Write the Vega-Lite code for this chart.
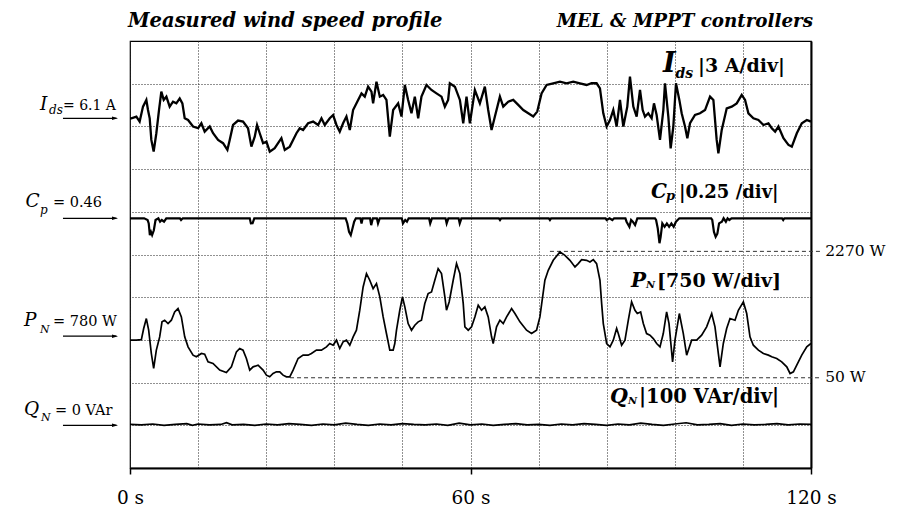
{
"$schema": "https://vega.github.io/schema/vega-lite/v6.json",
"width": 681, "height": 427,
"autosize": {"type": "none"},
"padding": {"left": 130, "top": 41, "right": 88, "bottom": 42},
"background": "white",
"config": {"view": {"stroke": "black", "strokeWidth": 1.2}},
"datasets": {
"ids": [{"t":0,"v":6.1},{"t":0.24,"v":6.1},{"t":1.12,"v":6.22},{"t":1.7,"v":5.87},{"t":2.29,"v":6.92},{"t":2.88,"v":7.39},{"t":3.17,"v":6.68},{"t":3.47,"v":6.1},{"t":3.76,"v":4.58},{"t":4.17,"v":3.76},{"t":4.64,"v":5.05},{"t":5.11,"v":6.68},{"t":5.52,"v":7.97},{"t":5.94,"v":7.39},{"t":6.41,"v":7.62},{"t":6.99,"v":6.92},{"t":7.58,"v":7.27},{"t":8.17,"v":7.15},{"t":8.76,"v":7.5},{"t":9.23,"v":7.15},{"t":9.64,"v":6.1},{"t":10.23,"v":5.98},{"t":11.11,"v":5.52},{"t":12.0,"v":5.4},{"t":12.58,"v":5.75},{"t":13.16,"v":5.16},{"t":14.05,"v":5.52},{"t":14.64,"v":5.05},{"t":15.52,"v":4.58},{"t":16.4,"v":4.35},{"t":17.16,"v":3.88},{"t":17.57,"v":4.58},{"t":18.16,"v":5.63},{"t":19.04,"v":5.94},{"t":19.92,"v":5.87},{"t":20.8,"v":5.4},{"t":21.39,"v":4.11},{"t":21.98,"v":4.81},{"t":22.39,"v":5.63},{"t":22.86,"v":5.05},{"t":23.45,"v":4.35},{"t":24.04,"v":4.46},{"t":24.63,"v":3.76},{"t":25.5,"v":4.0},{"t":26.09,"v":4.35},{"t":26.68,"v":4.7},{"t":27.27,"v":3.88},{"t":28.15,"v":4.11},{"t":28.74,"v":4.58},{"t":29.33,"v":5.05},{"t":29.91,"v":5.4},{"t":30.5,"v":5.28},{"t":31.38,"v":5.75},{"t":32.27,"v":5.87},{"t":33.15,"v":5.63},{"t":33.74,"v":6.1},{"t":34.32,"v":5.63},{"t":35.2,"v":6.1},{"t":35.79,"v":6.33},{"t":36.38,"v":5.63},{"t":36.96,"v":5.16},{"t":37.55,"v":5.75},{"t":38.14,"v":6.22},{"t":38.73,"v":5.28},{"t":39.31,"v":6.68},{"t":40.2,"v":7.39},{"t":40.79,"v":7.85},{"t":41.37,"v":7.62},{"t":41.96,"v":8.32},{"t":42.55,"v":7.97},{"t":42.84,"v":7.15},{"t":43.43,"v":8.67},{"t":44.02,"v":7.62},{"t":44.61,"v":7.74},{"t":45.19,"v":7.39},{"t":45.78,"v":4.81},{"t":46.37,"v":6.68},{"t":47.25,"v":7.15},{"t":47.84,"v":6.22},{"t":48.43,"v":8.44},{"t":49.01,"v":7.39},{"t":49.6,"v":6.45},{"t":50.19,"v":7.62},{"t":50.78,"v":6.1},{"t":51.36,"v":7.62},{"t":52.24,"v":8.44},{"t":53.12,"v":8.09},{"t":54.01,"v":7.85},{"t":54.89,"v":7.62},{"t":55.48,"v":6.92},{"t":56.06,"v":7.39},{"t":56.36,"v":8.56},{"t":57.25,"v":8.32},{"t":58.13,"v":7.39},{"t":58.72,"v":5.75},{"t":59.3,"v":7.62},{"t":59.89,"v":5.75},{"t":60.77,"v":8.09},{"t":61.65,"v":7.15},{"t":62.53,"v":8.32},{"t":63.12,"v":6.68},{"t":63.71,"v":5.28},{"t":64.3,"v":6.22},{"t":65.18,"v":7.62},{"t":65.77,"v":6.92},{"t":66.65,"v":7.27},{"t":67.53,"v":7.39},{"t":68.41,"v":7.04},{"t":69.3,"v":6.68},{"t":70.18,"v":6.45},{"t":71.06,"v":6.22},{"t":71.76,"v":6.57},{"t":72.52,"v":7.85},{"t":73.41,"v":8.44},{"t":74.58,"v":8.56},{"t":75.76,"v":8.67},{"t":76.93,"v":8.56},{"t":78.11,"v":8.67},{"t":79.28,"v":8.56},{"t":80.46,"v":8.44},{"t":81.34,"v":8.56},{"t":82.22,"v":8.56},{"t":82.81,"v":8.2},{"t":83.4,"v":6.45},{"t":83.99,"v":5.52},{"t":84.58,"v":5.98},{"t":85.16,"v":6.68},{"t":85.75,"v":5.52},{"t":86.34,"v":7.39},{"t":86.93,"v":5.52},{"t":87.63,"v":6.92},{"t":88.1,"v":9.02},{"t":88.69,"v":6.92},{"t":89.28,"v":6.22},{"t":89.87,"v":8.09},{"t":90.34,"v":6.68},{"t":90.75,"v":6.22},{"t":91.33,"v":6.45},{"t":91.92,"v":6.1},{"t":92.33,"v":7.15},{"t":92.8,"v":6.33},{"t":93.39,"v":4.58},{"t":93.98,"v":6.68},{"t":94.27,"v":8.56},{"t":94.86,"v":6.22},{"t":95.27,"v":3.99},{"t":95.74,"v":5.52},{"t":96.21,"v":8.56},{"t":96.8,"v":7.39},{"t":97.21,"v":6.45},{"t":97.8,"v":5.52},{"t":98.21,"v":4.7},{"t":98.68,"v":5.75},{"t":99.56,"v":6.33},{"t":100.44,"v":6.45},{"t":101.33,"v":6.68},{"t":102.21,"v":7.62},{"t":102.8,"v":7.39},{"t":103.38,"v":4.58},{"t":103.68,"v":3.64},{"t":104.27,"v":5.28},{"t":105.15,"v":6.8},{"t":106.03,"v":6.92},{"t":106.91,"v":7.15},{"t":107.79,"v":7.74},{"t":108.38,"v":7.39},{"t":108.97,"v":6.45},{"t":109.85,"v":6.1},{"t":110.73,"v":5.98},{"t":111.62,"v":5.63},{"t":112.5,"v":5.75},{"t":113.09,"v":5.4},{"t":113.68,"v":5.16},{"t":114.26,"v":5.52},{"t":115.15,"v":4.7},{"t":116.03,"v":4.23},{"t":116.62,"v":4.11},{"t":117.5,"v":5.05},{"t":118.38,"v":5.75},{"t":119.26,"v":5.98},{"t":120,"v":5.87}],
"cp": [{"t":0,"v":0.46},{"t":2.5,"v":0.46},{"t":3.1,"v":0.45},{"t":3.3,"v":0.43},{"t":3.5,"v":0.362},{"t":3.7,"v":0.38},{"t":3.9,"v":0.362},{"t":4.2,"v":0.39},{"t":4.5,"v":0.45},{"t":5.0,"v":0.46},{"t":5.3,"v":0.44},{"t":5.6,"v":0.45},{"t":6.0,"v":0.44},{"t":6.4,"v":0.46},{"t":8.8,"v":0.46},{"t":9.0,"v":0.45},{"t":9.3,"v":0.46},{"t":21.1,"v":0.46},{"t":21.3,"v":0.43},{"t":21.6,"v":0.431},{"t":21.9,"v":0.46},{"t":38.0,"v":0.46},{"t":38.3,"v":0.43},{"t":38.6,"v":0.38},{"t":38.9,"v":0.362},{"t":39.2,"v":0.4},{"t":39.5,"v":0.44},{"t":39.8,"v":0.46},{"t":40.6,"v":0.46},{"t":40.8,"v":0.43},{"t":41.0,"v":0.46},{"t":42.3,"v":0.46},{"t":42.5,"v":0.42},{"t":42.8,"v":0.46},{"t":43.5,"v":0.46},{"t":43.7,"v":0.43},{"t":44.0,"v":0.46},{"t":47.9,"v":0.46},{"t":48.1,"v":0.43},{"t":48.5,"v":0.45},{"t":48.8,"v":0.44},{"t":49.1,"v":0.46},{"t":52.7,"v":0.46},{"t":52.9,"v":0.43},{"t":53.2,"v":0.46},{"t":55.6,"v":0.46},{"t":55.8,"v":0.43},{"t":56.1,"v":0.46},{"t":57.9,"v":0.46},{"t":58.1,"v":0.43},{"t":58.4,"v":0.46},{"t":65.0,"v":0.46},{"t":65.2,"v":0.45},{"t":65.4,"v":0.46},{"t":73.8,"v":0.46},{"t":74.0,"v":0.45},{"t":74.2,"v":0.46},{"t":83.8,"v":0.46},{"t":84.0,"v":0.45},{"t":84.5,"v":0.46},{"t":85.0,"v":0.45},{"t":85.3,"v":0.46},{"t":87.3,"v":0.46},{"t":87.5,"v":0.44},{"t":88.0,"v":0.41},{"t":88.3,"v":0.45},{"t":88.6,"v":0.44},{"t":89.0,"v":0.42},{"t":89.4,"v":0.46},{"t":92.5,"v":0.46},{"t":92.7,"v":0.45},{"t":93.0,"v":0.4},{"t":93.3,"v":0.314},{"t":93.5,"v":0.35},{"t":93.8,"v":0.43},{"t":94.2,"v":0.41},{"t":94.6,"v":0.43},{"t":95.0,"v":0.41},{"t":95.4,"v":0.43},{"t":95.8,"v":0.41},{"t":96.2,"v":0.44},{"t":96.8,"v":0.46},{"t":102.4,"v":0.46},{"t":102.6,"v":0.45},{"t":102.9,"v":0.38},{"t":103.2,"v":0.352},{"t":103.5,"v":0.37},{"t":103.8,"v":0.43},{"t":104.3,"v":0.44},{"t":104.6,"v":0.46},{"t":105.0,"v":0.44},{"t":105.3,"v":0.46},{"t":105.6,"v":0.45},{"t":106.0,"v":0.46},{"t":114.9,"v":0.46},{"t":115.1,"v":0.45},{"t":115.3,"v":0.46},{"t":120,"v":0.46}],
"pn": [{"t":0,"v":710},{"t":1.12,"v":710},{"t":2.0,"v":720},{"t":2.41,"v":915},{"t":2.88,"v":1090},{"t":3.29,"v":886},{"t":3.76,"v":476},{"t":4.17,"v":213},{"t":4.64,"v":535},{"t":5.23,"v":768},{"t":5.64,"v":1032},{"t":6.11,"v":1060},{"t":6.7,"v":1002},{"t":7.29,"v":1061},{"t":7.87,"v":1207},{"t":8.46,"v":1266},{"t":9.05,"v":1119},{"t":9.64,"v":769},{"t":10.23,"v":593},{"t":11.11,"v":447},{"t":11.69,"v":418},{"t":12.58,"v":476},{"t":13.16,"v":464},{"t":13.75,"v":330},{"t":14.63,"v":301},{"t":15.81,"v":184},{"t":16.98,"v":143},{"t":17.87,"v":242},{"t":18.75,"v":505},{"t":19.33,"v":564},{"t":19.92,"v":535},{"t":20.51,"v":388},{"t":21.1,"v":184},{"t":21.69,"v":242},{"t":22.57,"v":271},{"t":23.45,"v":184},{"t":24.04,"v":96},{"t":24.62,"v":67},{"t":25.21,"v":125},{"t":25.8,"v":155},{"t":26.39,"v":155},{"t":26.97,"v":96},{"t":27.56,"v":67},{"t":28.15,"v":67},{"t":28.74,"v":184},{"t":29.62,"v":388},{"t":30.5,"v":447},{"t":31.38,"v":447},{"t":31.97,"v":476},{"t":32.85,"v":535},{"t":33.73,"v":535},{"t":34.62,"v":593},{"t":35.2,"v":652},{"t":35.79,"v":622},{"t":36.38,"v":710},{"t":36.96,"v":564},{"t":37.55,"v":681},{"t":38.14,"v":710},{"t":38.73,"v":622},{"t":39.32,"v":769},{"t":39.9,"v":885},{"t":40.49,"v":1236},{"t":41.08,"v":1645},{"t":41.67,"v":1879},{"t":42.25,"v":1763},{"t":42.84,"v":1616},{"t":43.43,"v":1704},{"t":44.02,"v":1470},{"t":44.61,"v":1119},{"t":45.19,"v":827},{"t":45.78,"v":535},{"t":46.37,"v":535},{"t":46.66,"v":652},{"t":46.96,"v":885},{"t":47.54,"v":1236},{"t":48.01,"v":1470},{"t":48.43,"v":1295},{"t":49.01,"v":1002},{"t":49.6,"v":885},{"t":50.19,"v":973},{"t":50.78,"v":1032},{"t":51.36,"v":1061},{"t":51.95,"v":1353},{"t":52.54,"v":1529},{"t":53.13,"v":1558},{"t":53.71,"v":1763},{"t":54.3,"v":1967},{"t":54.89,"v":1880},{"t":55.48,"v":1470},{"t":55.77,"v":1236},{"t":56.24,"v":1382},{"t":56.95,"v":1763},{"t":57.54,"v":2055},{"t":58.13,"v":1880},{"t":58.72,"v":1353},{"t":59.01,"v":944},{"t":59.6,"v":885},{"t":60.19,"v":944},{"t":60.77,"v":1119},{"t":61.36,"v":1324},{"t":61.95,"v":1236},{"t":62.53,"v":1295},{"t":63.12,"v":1119},{"t":63.71,"v":769},{"t":64.0,"v":652},{"t":64.59,"v":944},{"t":65.18,"v":1061},{"t":65.77,"v":1002},{"t":66.36,"v":1119},{"t":67.24,"v":1265},{"t":67.83,"v":1178},{"t":68.71,"v":1032},{"t":69.88,"v":885},{"t":70.76,"v":827},{"t":71.64,"v":885},{"t":72.23,"v":1119},{"t":73.11,"v":1763},{"t":73.7,"v":1938},{"t":74.58,"v":2113},{"t":75.76,"v":2260},{"t":76.64,"v":2201},{"t":77.52,"v":2113},{"t":78.41,"v":1996},{"t":78.99,"v":2055},{"t":79.58,"v":2125},{"t":80.46,"v":2113},{"t":81.05,"v":2084},{"t":81.64,"v":2125},{"t":82.22,"v":2055},{"t":82.81,"v":1763},{"t":83.11,"v":1353},{"t":83.4,"v":1002},{"t":83.99,"v":652},{"t":84.58,"v":593},{"t":85.16,"v":710},{"t":85.75,"v":915},{"t":86.04,"v":827},{"t":86.63,"v":622},{"t":87.22,"v":710},{"t":87.81,"v":1061},{"t":88.39,"v":1382},{"t":88.98,"v":1236},{"t":89.39,"v":1178},{"t":89.98,"v":1207},{"t":90.45,"v":1002},{"t":91.03,"v":827},{"t":91.62,"v":798},{"t":92.21,"v":739},{"t":92.8,"v":652},{"t":93.39,"v":593},{"t":93.97,"v":827},{"t":94.56,"v":1207},{"t":94.98,"v":1002},{"t":95.61,"v":330},{"t":96.03,"v":710},{"t":96.8,"v":1178},{"t":97.5,"v":827},{"t":98.09,"v":447},{"t":98.97,"v":710},{"t":99.85,"v":710},{"t":100.73,"v":798},{"t":101.61,"v":944},{"t":102.5,"v":1178},{"t":103.08,"v":944},{"t":103.97,"v":242},{"t":104.55,"v":652},{"t":105.14,"v":915},{"t":105.73,"v":1090},{"t":106.61,"v":1061},{"t":107.2,"v":1236},{"t":108.08,"v":1382},{"t":108.67,"v":1178},{"t":109.25,"v":769},{"t":109.84,"v":622},{"t":110.73,"v":535},{"t":111.61,"v":476},{"t":112.49,"v":447},{"t":113.08,"v":418},{"t":113.96,"v":389},{"t":114.84,"v":330},{"t":115.73,"v":242},{"t":116.31,"v":125},{"t":116.9,"v":155},{"t":117.49,"v":271},{"t":118.37,"v":447},{"t":119.25,"v":593},{"t":120,"v":652}],
"qn": [{"t":0,"v":2},{"t":2,"v":1},{"t":4,"v":3},{"t":6,"v":0},{"t":8,"v":2},{"t":10,"v":4},{"t":11,"v":0},{"t":12,"v":3},{"t":14,"v":1},{"t":16,"v":2},{"t":17,"v":6},{"t":18,"v":1},{"t":20,"v":2},{"t":22,"v":0},{"t":24,"v":3},{"t":26,"v":1},{"t":28,"v":4},{"t":30,"v":2},{"t":32,"v":0},{"t":34,"v":3},{"t":36,"v":1},{"t":38,"v":5},{"t":40,"v":2},{"t":42,"v":0},{"t":44,"v":3},{"t":46,"v":1},{"t":48,"v":4},{"t":50,"v":2},{"t":52,"v":1},{"t":54,"v":3},{"t":56,"v":0},{"t":58,"v":5},{"t":60,"v":1},{"t":62,"v":3},{"t":64,"v":0},{"t":66,"v":2},{"t":68,"v":4},{"t":70,"v":1},{"t":72,"v":2},{"t":74,"v":0},{"t":76,"v":3},{"t":78,"v":1},{"t":80,"v":4},{"t":82,"v":2},{"t":84,"v":0},{"t":86,"v":3},{"t":88,"v":1},{"t":90,"v":5},{"t":92,"v":2},{"t":94,"v":0},{"t":96,"v":3},{"t":98,"v":6},{"t":100,"v":1},{"t":102,"v":2},{"t":104,"v":4},{"t":106,"v":0},{"t":108,"v":3},{"t":110,"v":1},{"t":112,"v":2},{"t":114,"v":4},{"t":116,"v":1},{"t":118,"v":3},{"t":120,"v":2}],
"annI": [{"r":"arrow","t":-11.81,"t2":-2.4,"v":6.1},{"r":"head","t":-2.64,"v":6.1},{"r":"lvar","t":-15.86,"v":6.1,"txt":"I"},{"r":"lsub","t":-14.27,"v":6.1,"txt":"ds"},{"r":"leq","t":-11.81,"v":6.1,"txt":"= 6.1 A"},{"r":"rvar","t":93.92,"v":9.35,"txt":"I"},{"r":"rsub","t":96.12,"v":9.35,"txt":"ds"},{"r":"rtxt","t":100.09,"v":9.35,"txt":"|3 A/div|"},{"r":"titleL","t":-0.35,"v":12.48,"txt":"Measured wind speed profile"},{"r":"titleR","t":120.35,"v":12.48,"txt":"MEL & MPPT controllers"}],
"annC": [{"r":"arrow","t":-11.81,"t2":-2.4,"v":0.46},{"r":"head","t":-2.64,"v":0.46},{"r":"lvar","t":-18.41,"v":0.46,"txt":"C"},{"r":"lsub","t":-15.86,"v":0.46,"txt":"p"},{"r":"leq","t":-13.57,"v":0.46,"txt":"= 0.46"},{"r":"rvar","t":91.81,"v":0.577,"txt":"C"},{"r":"rsub","t":94.45,"v":0.577,"txt":"p"},{"r":"rtxt","t":96.74,"v":0.577,"txt":"|0.25 /div|"}],
"annP": [{"r":"arrow","t":-11.81,"t2":-2.4,"v":780},{"r":"head","t":-2.64,"v":780},{"r":"lvar","t":-18.68,"v":780,"txt":"P"},{"r":"lsub","t":-15.86,"v":780,"txt":"N"},{"r":"leq","t":-13.57,"v":780,"txt":"= 780 W"},{"r":"rvar","t":88.28,"v":1649,"txt":"P"},{"r":"rsub","t":90.93,"v":1649,"txt":"N"},{"r":"rtxt","t":92.86,"v":1649,"txt":"[750 W/div]"},{"r":"ref","t":74.0,"t2":121.6,"v":2270},{"r":"ref","t":28.2,"t2":121.6,"v":50},{"r":"reftxt","t":122.5,"v":2270,"txt":"2270 W"},{"r":"reftxt","t":122.5,"v":50,"txt":"50 W"}],
"annQ": [{"r":"arrow","t":-11.81,"t2":-2.4,"v":0},{"r":"head","t":-2.64,"v":0},{"r":"lvar","t":-18.68,"v":0,"txt":"Q"},{"r":"lsub","t":-15.68,"v":0,"txt":"N"},{"r":"leq","t":-13.22,"v":0,"txt":"= 0 VAr"},{"r":"rvar","t":84.58,"v":51.5,"txt":"Q"},{"r":"rsub","t":87.75,"v":51.5,"txt":"N"},{"r":"rtxt","t":89.69,"v":51.5,"txt":"|100 VAr/div|"}]
},
"encoding": {
  "x": {"field": "t", "type": "quantitative",
    "scale": {"domain": [0, 120], "nice": false, "zero": false},
    "axis": {"values": [0,12,24,36,48,60,72,84,96,108,120], "title": null,
      "grid": true, "gridDash": [1,2], "gridColor": "#222", "gridWidth": 1,
      "domain": true, "domainColor": "black", "domainWidth": 2,
      "ticks": true, "tickSize": 6, "tickColor": "black", "tickWidth": 1.5,
      "tickOpacity": {"condition": {"test": "datum.value % 60 === 0", "value": 1}, "value": 0},
      "labelExpr": "datum.value % 60 === 0 ? datum.value + ' s' : ''",
      "labelFont": "DejaVu Serif", "labelFontSize": 18.5, "labelColor": "black",
      "labelBaseline": "alphabetic", "labelPadding": 29, "labelFlush": false, "labelOverlap": false}}
},
"layer": [
{
  "data": {"name": "annI"},
  "encoding": {"y": {"field": "v", "type": "quantitative", "scale": {"domain": [-18.47, 11.53], "nice": false, "zero": false}, "axis": null}},
  "layer": [
    {"data": {"name": "ids"}, "mark": {"type": "line", "color": "black", "strokeWidth": 2.3, "clip": true}},
    {"transform": [{"filter": "datum.r=='arrow'"}], "mark": {"type": "rule", "color": "black", "strokeWidth": 1.3}, "encoding": {"x2": {"field": "t2"}}},
    {"transform": [{"filter": "datum.r=='head'"}], "mark": {"type": "point", "shape": "M-1,-0.6L1,0L-1,0.6Z", "size": 36, "filled": true, "color": "black", "opacity": 1}},
    {"transform": [{"filter": "datum.r=='lvar'"}], "mark": {"type": "text", "font": "DejaVu Serif", "fontStyle": "italic", "fontSize": 18.5, "align": "left", "baseline": "alphabetic", "dy": -8.5, "color": "black"}, "encoding": {"text": {"field": "txt"}}},
    {"transform": [{"filter": "datum.r=='lsub'"}], "mark": {"type": "text", "font": "DejaVu Serif", "fontStyle": "italic", "fontSize": 12, "align": "left", "baseline": "alphabetic", "dy": -4, "color": "black"}, "encoding": {"text": {"field": "txt"}}},
    {"transform": [{"filter": "datum.r=='leq'"}], "mark": {"type": "text", "font": "DejaVu Serif", "fontSize": 14, "align": "left", "baseline": "alphabetic", "dy": -8.5, "color": "black"}, "encoding": {"text": {"field": "txt"}}},
    {"transform": [{"filter": "datum.r=='rvar'"}], "mark": {"type": "text", "font": "DejaVu Serif", "fontStyle": "italic", "fontWeight": "bold", "fontSize": 27, "align": "left", "baseline": "alphabetic", "color": "black"}, "encoding": {"text": {"field": "txt"}}},
    {"transform": [{"filter": "datum.r=='rsub'"}], "mark": {"type": "text", "font": "DejaVu Serif", "fontStyle": "italic", "fontWeight": "bold", "fontSize": 14, "align": "left", "baseline": "alphabetic", "dy": 6, "color": "black"}, "encoding": {"text": {"field": "txt"}}},
    {"transform": [{"filter": "datum.r=='rtxt'"}], "mark": {"type": "text", "font": "DejaVu Serif", "fontWeight": "bold", "fontSize": 19, "align": "left", "baseline": "alphabetic", "color": "black"}, "encoding": {"text": {"field": "txt"}}},
    {"transform": [{"filter": "datum.r=='titleL'"}], "mark": {"type": "text", "font": "DejaVu Serif", "fontStyle": "italic", "fontWeight": "bold", "fontSize": 19.5, "align": "left", "baseline": "alphabetic", "color": "black"}, "encoding": {"text": {"field": "txt"}}},
    {"transform": [{"filter": "datum.r=='titleR'"}], "mark": {"type": "text", "font": "DejaVu Serif", "fontStyle": "italic", "fontWeight": "bold", "fontSize": 18.3, "align": "right", "baseline": "alphabetic", "color": "black"}, "encoding": {"text": {"field": "txt"}}}
  ]
},
{
  "data": {"name": "annC"},
  "encoding": {"y": {"field": "v", "type": "quantitative", "scale": {"domain": [-1.002, 1.498], "nice": false, "zero": false}, "axis": null}},
  "layer": [
    {"data": {"name": "cp"}, "mark": {"type": "line", "color": "black", "strokeWidth": 2.2, "clip": true}},
    {"transform": [{"filter": "datum.r=='arrow'"}], "mark": {"type": "rule", "color": "black", "strokeWidth": 1.3}, "encoding": {"x2": {"field": "t2"}}},
    {"transform": [{"filter": "datum.r=='head'"}], "mark": {"type": "point", "shape": "M-1,-0.6L1,0L-1,0.6Z", "size": 36, "filled": true, "color": "black", "opacity": 1}},
    {"transform": [{"filter": "datum.r=='lvar'"}], "mark": {"type": "text", "font": "DejaVu Serif", "fontStyle": "italic", "fontSize": 18.5, "align": "left", "baseline": "alphabetic", "dy": -11.5, "color": "black"}, "encoding": {"text": {"field": "txt"}}},
    {"transform": [{"filter": "datum.r=='lsub'"}], "mark": {"type": "text", "font": "DejaVu Serif", "fontStyle": "italic", "fontSize": 12, "align": "left", "baseline": "alphabetic", "dy": -4.5, "color": "black"}, "encoding": {"text": {"field": "txt"}}},
    {"transform": [{"filter": "datum.r=='leq'"}], "mark": {"type": "text", "font": "DejaVu Serif", "fontSize": 14.5, "align": "left", "baseline": "alphabetic", "dy": -11.5, "color": "black"}, "encoding": {"text": {"field": "txt"}}},
    {"transform": [{"filter": "datum.r=='rvar'"}], "mark": {"type": "text", "font": "DejaVu Serif", "fontStyle": "italic", "fontWeight": "bold", "fontSize": 20, "align": "left", "baseline": "alphabetic", "color": "black"}, "encoding": {"text": {"field": "txt"}}},
    {"transform": [{"filter": "datum.r=='rsub'"}], "mark": {"type": "text", "font": "DejaVu Serif", "fontStyle": "italic", "fontWeight": "bold", "fontSize": 13, "align": "left", "baseline": "alphabetic", "dy": 2, "color": "black"}, "encoding": {"text": {"field": "txt"}}},
    {"transform": [{"filter": "datum.r=='rtxt'"}], "mark": {"type": "text", "font": "DejaVu Serif", "fontWeight": "bold", "fontSize": 18, "align": "left", "baseline": "alphabetic", "color": "black"}, "encoding": {"text": {"field": "txt"}}}
  ]
},
{
  "data": {"name": "annP"},
  "encoding": {"y": {"field": "v", "type": "quantitative", "scale": {"domain": [-1535, 5965], "nice": false, "zero": false}, "axis": null}},
  "layer": [
    {"transform": [{"filter": "datum.r=='ref'"}], "mark": {"type": "rule", "color": "#333", "strokeWidth": 1, "strokeDash": [4,3]}, "encoding": {"x2": {"field": "t2"}}},
    {"data": {"name": "pn"}, "mark": {"type": "line", "color": "black", "strokeWidth": 1.7, "clip": true}},
    {"transform": [{"filter": "datum.r=='arrow'"}], "mark": {"type": "rule", "color": "black", "strokeWidth": 1.3}, "encoding": {"x2": {"field": "t2"}}},
    {"transform": [{"filter": "datum.r=='head'"}], "mark": {"type": "point", "shape": "M-1,-0.6L1,0L-1,0.6Z", "size": 36, "filled": true, "color": "black", "opacity": 1}},
    {"transform": [{"filter": "datum.r=='lvar'"}], "mark": {"type": "text", "font": "DejaVu Serif", "fontStyle": "italic", "fontSize": 18.5, "align": "left", "baseline": "alphabetic", "dy": -10, "color": "black"}, "encoding": {"text": {"field": "txt"}}},
    {"transform": [{"filter": "datum.r=='lsub'"}], "mark": {"type": "text", "font": "DejaVu Serif", "fontStyle": "italic", "fontSize": 11, "align": "left", "baseline": "alphabetic", "dy": -3, "color": "black"}, "encoding": {"text": {"field": "txt"}}},
    {"transform": [{"filter": "datum.r=='leq'"}], "mark": {"type": "text", "font": "DejaVu Serif", "fontSize": 14.5, "align": "left", "baseline": "alphabetic", "dy": -10, "color": "black"}, "encoding": {"text": {"field": "txt"}}},
    {"transform": [{"filter": "datum.r=='rvar'"}], "mark": {"type": "text", "font": "DejaVu Serif", "fontStyle": "italic", "fontWeight": "bold", "fontSize": 20, "align": "left", "baseline": "alphabetic", "color": "black"}, "encoding": {"text": {"field": "txt"}}},
    {"transform": [{"filter": "datum.r=='rsub'"}], "mark": {"type": "text", "font": "DejaVu Serif", "fontStyle": "italic", "fontWeight": "bold", "fontSize": 10, "align": "left", "baseline": "alphabetic", "dy": 1, "color": "black"}, "encoding": {"text": {"field": "txt"}}},
    {"transform": [{"filter": "datum.r=='rtxt'"}], "mark": {"type": "text", "font": "DejaVu Serif", "fontWeight": "bold", "fontSize": 19, "align": "left", "baseline": "alphabetic", "color": "black"}, "encoding": {"text": {"field": "txt"}}},
    {"transform": [{"filter": "datum.r=='reftxt'"}], "mark": {"type": "text", "font": "DejaVu Serif", "fontSize": 15.5, "align": "left", "baseline": "alphabetic", "dy": 4.5, "color": "black"}, "encoding": {"text": {"field": "txt"}}}
  ]
},
{
  "data": {"name": "annQ"},
  "encoding": {"y": {"field": "v", "type": "quantitative", "scale": {"domain": [-100, 900], "nice": false, "zero": false},
    "axis": {"orient": "right", "values": [0,100,200,300,400,500,600,700,800], "title": null, "grid": true, "gridDash": [1,2], "gridColor": "#222", "gridWidth": 1, "labels": false, "ticks": false, "domain": true, "domainColor": "black", "domainWidth": 2}}},
  "layer": [
    {"data": {"name": "qn"}, "mark": {"type": "line", "color": "black", "strokeWidth": 1.7, "clip": true}},
    {"transform": [{"filter": "datum.r=='arrow'"}], "mark": {"type": "rule", "color": "black", "strokeWidth": 1.3}, "encoding": {"x2": {"field": "t2"}}},
    {"transform": [{"filter": "datum.r=='head'"}], "mark": {"type": "point", "shape": "M-1,-0.6L1,0L-1,0.6Z", "size": 36, "filled": true, "color": "black", "opacity": 1}},
    {"transform": [{"filter": "datum.r=='lvar'"}], "mark": {"type": "text", "font": "DejaVu Serif", "fontStyle": "italic", "fontSize": 18.5, "align": "left", "baseline": "alphabetic", "dy": -10, "color": "black"}, "encoding": {"text": {"field": "txt"}}},
    {"transform": [{"filter": "datum.r=='lsub'"}], "mark": {"type": "text", "font": "DejaVu Serif", "fontStyle": "italic", "fontSize": 11, "align": "left", "baseline": "alphabetic", "dy": -4, "color": "black"}, "encoding": {"text": {"field": "txt"}}},
    {"transform": [{"filter": "datum.r=='leq'"}], "mark": {"type": "text", "font": "DejaVu Serif", "fontSize": 14.5, "align": "left", "baseline": "alphabetic", "dy": -10, "color": "black"}, "encoding": {"text": {"field": "txt"}}},
    {"transform": [{"filter": "datum.r=='rvar'"}], "mark": {"type": "text", "font": "DejaVu Serif", "fontStyle": "italic", "fontWeight": "bold", "fontSize": 20.5, "align": "left", "baseline": "alphabetic", "color": "black"}, "encoding": {"text": {"field": "txt"}}},
    {"transform": [{"filter": "datum.r=='rsub'"}], "mark": {"type": "text", "font": "DejaVu Serif", "fontStyle": "italic", "fontWeight": "bold", "fontSize": 10, "align": "left", "baseline": "alphabetic", "dy": 1, "color": "black"}, "encoding": {"text": {"field": "txt"}}},
    {"transform": [{"filter": "datum.r=='rtxt'"}], "mark": {"type": "text", "font": "DejaVu Serif", "fontWeight": "bold", "fontSize": 19.5, "align": "left", "baseline": "alphabetic", "color": "black"}, "encoding": {"text": {"field": "txt"}}}
  ]
}
],
"resolve": {"scale": {"y": "independent"}}
}
